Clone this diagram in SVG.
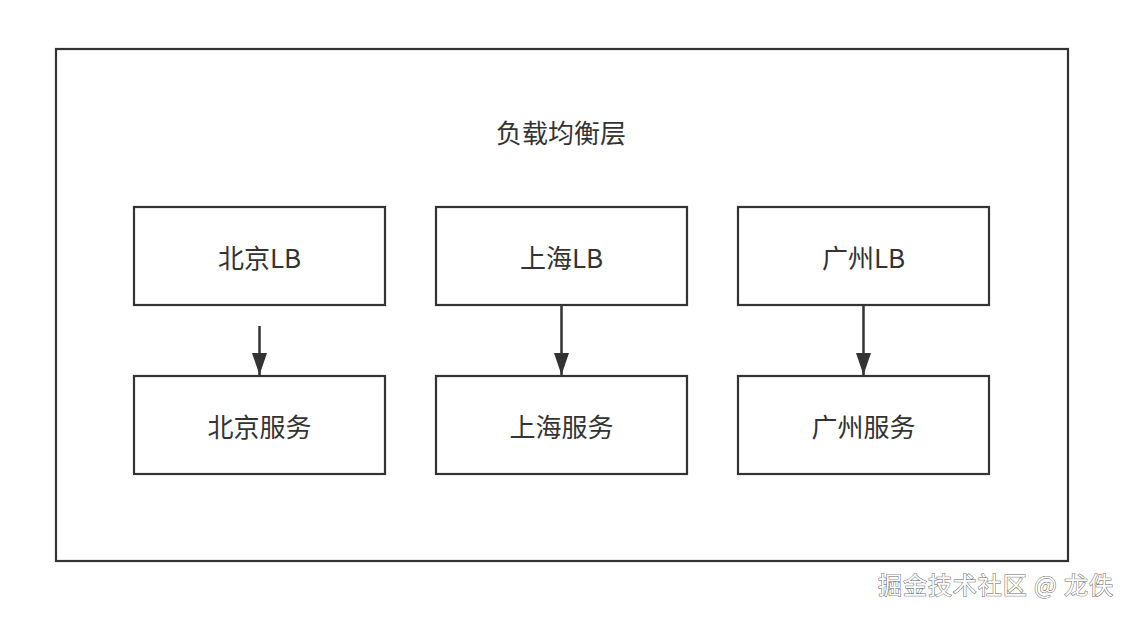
<svg xmlns="http://www.w3.org/2000/svg" width="1132" height="618" viewBox="0 0 1132 618">
<style>
.box{fill:#fff;stroke:#333;stroke-width:2.2}
.lbl{font-family:"Noto Sans CJK SC","Noto Sans",sans-serif;font-size:26px;fill:#333;text-anchor:middle;dominant-baseline:central}
.edge{stroke:#333;stroke-width:2.5;fill:none}
.wm{font-family:"Noto Sans CJK SC",sans-serif;font-size:24px;fill:#fff;stroke:#666;stroke-width:1;paint-order:stroke}
</style>
<defs>
<marker id="ah" viewBox="0 0 10 10" refX="10" refY="5" markerWidth="22" markerHeight="15" markerUnits="userSpaceOnUse" orient="auto" preserveAspectRatio="none">
<path d="M0,0 L10,5 L0,10 Z" fill="#333"/>
</marker>
</defs>
<rect width="1132" height="618" fill="#fff"/>
<g id="layer">
<rect class="box" x="56" y="49" width="1012" height="512"/>
<text class="lbl" x="561" y="131">负载均衡层</text>
</g>
<g id="bj-lb"><rect class="box" x="134" y="207" width="251" height="98"/><text class="lbl" x="259.5" y="256">北京LB</text></g>
<g id="sh-lb"><rect class="box" x="436" y="207" width="251" height="98"/><text class="lbl" x="561.5" y="256">上海LB</text></g>
<g id="gz-lb"><rect class="box" x="738" y="207" width="251" height="98"/><text class="lbl" x="863.5" y="256">广州LB</text></g>
<g id="bj-svc"><rect class="box" x="134" y="376" width="251" height="98"/><text class="lbl" x="259.5" y="425">北京服务</text></g>
<g id="sh-svc"><rect class="box" x="436" y="376" width="251" height="98"/><text class="lbl" x="561.5" y="425">上海服务</text></g>
<g id="gz-svc"><rect class="box" x="738" y="376" width="251" height="98"/><text class="lbl" x="863.5" y="425">广州服务</text></g>
<g id="connectors">
<line class="edge" x1="259.5" y1="326" x2="259.5" y2="375" marker-end="url(#ah)"/>
<line class="edge" x1="561.5" y1="306" x2="561.5" y2="375" marker-end="url(#ah)"/>
<line class="edge" x1="863.5" y1="306" x2="863.5" y2="375" marker-end="url(#ah)"/>
</g>
<text class="wm" x="878" y="594" textLength="235">掘金技术社区 @ 龙佚</text>
</svg>
